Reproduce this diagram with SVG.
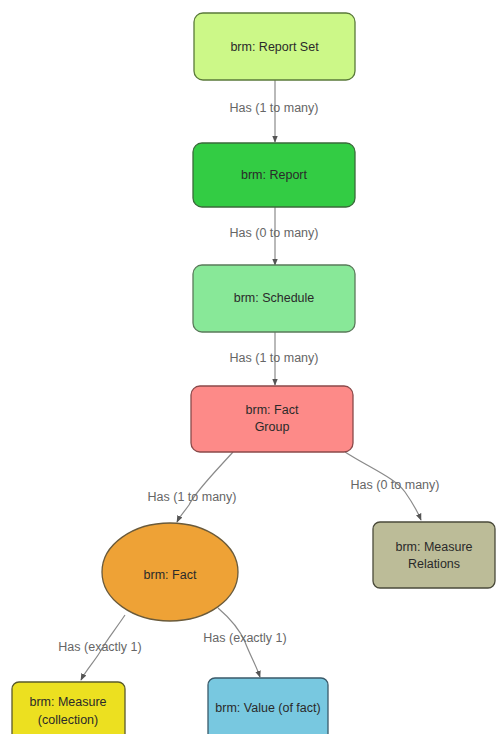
<svg xmlns="http://www.w3.org/2000/svg" width="496" height="734" viewBox="0 0 496 734">
<style>
.n{stroke-width:1.3}
.t{font-family:"Liberation Sans",Arial,sans-serif;font-size:12.5px;fill:#2a2a2a;text-anchor:middle}
.l{font-family:"Liberation Sans",Arial,sans-serif;font-size:12.5px;fill:#666;text-anchor:middle}
.c{fill:none;stroke:#8a8a8a;stroke-width:1.2;marker-end:url(#a)}
</style>
<defs>
<marker id="a" viewBox="0 0 10 10" refX="9" refY="5" markerWidth="7" markerHeight="7" orient="auto" markerUnits="userSpaceOnUse">
<path d="M0,1 L10,5 L0,9 Z" fill="#555"/>
</marker>
</defs>
<rect width="496" height="734" fill="#fff"/>
<g id="connectors">
<line class="c" x1="275" y1="80" x2="275" y2="142"/>
<line class="c" x1="275" y1="207" x2="275" y2="265"/>
<line class="c" x1="275" y1="332" x2="275" y2="385"/>
<path class="c" d="M233,452 C215,472 195,492 189,505 C184,512 180,516 177,522"/>
<path class="c" d="M345,452 C370,468 395,478 405,492 C412,502 417,510 421,520"/>
<path class="c" d="M125,615 C115,630 105,642 100,652 C94,662 86,670 81,680"/>
<path class="c" d="M218,608 C232,620 240,630 245,642 C250,655 256,665 260,677"/>
</g>
<g id="labels">
<text class="l" x="274" y="112">Has (1 to many)</text>
<text class="l" x="274" y="237">Has (0 to many)</text>
<text class="l" x="274" y="362">Has (1 to many)</text>
<text class="l" x="192" y="501">Has (1 to many)</text>
<text class="l" x="395" y="489">Has (0 to many)</text>
<text class="l" x="100" y="651">Has (exactly 1)</text>
<text class="l" x="245" y="642">Has (exactly 1)</text>
</g>
<g id="report-set">
<rect class="n" x="194" y="13" width="161" height="67" rx="9" fill="#ccf888" stroke="#5a7a3a"/>
<text class="t" x="274.5" y="51">brm: Report Set</text>
</g>
<g id="report">
<rect class="n" x="193" y="143" width="162" height="64" rx="9" fill="#33cc44" stroke="#3a6a3a"/>
<text class="t" x="274" y="179">brm: Report</text>
</g>
<g id="schedule">
<rect class="n" x="193" y="265" width="162" height="67" rx="9" fill="#88e898" stroke="#5a7a5a"/>
<text class="t" x="274" y="302">brm: Schedule</text>
</g>
<g id="fact-group">
<rect class="n" x="191" y="386" width="162" height="66" rx="9" fill="#fd8a88" stroke="#8a4a4a"/>
<text class="t" x="272" y="414">brm: Fact</text>
<text class="t" x="272" y="431">Group</text>
</g>
<g id="measure-relations">
<rect class="n" x="373" y="522" width="122" height="66" rx="7" fill="#bcbc98" stroke="#4a4a3a"/>
<text class="t" x="434" y="551">brm: Measure</text>
<text class="t" x="434" y="568">Relations</text>
</g>
<g id="fact">
<ellipse class="n" cx="170" cy="572" rx="68" ry="49" fill="#eea236" stroke="#6a5a3a"/>
<text class="t" x="170" y="579">brm: Fact</text>
</g>
<g id="measure-collection">
<rect class="n" x="12" y="682" width="113" height="62" rx="7" fill="#ece020" stroke="#5a5a2a"/>
<text class="t" x="68" y="706">brm: Measure</text>
<text class="t" x="68" y="724">(collection)</text>
</g>
<g id="value">
<rect class="n" x="208" y="678" width="120" height="66" rx="7" fill="#78c8e0" stroke="#3a5a6a"/>
<text class="t" x="268" y="712">brm: Value (of fact)</text>
</g>
</svg>
